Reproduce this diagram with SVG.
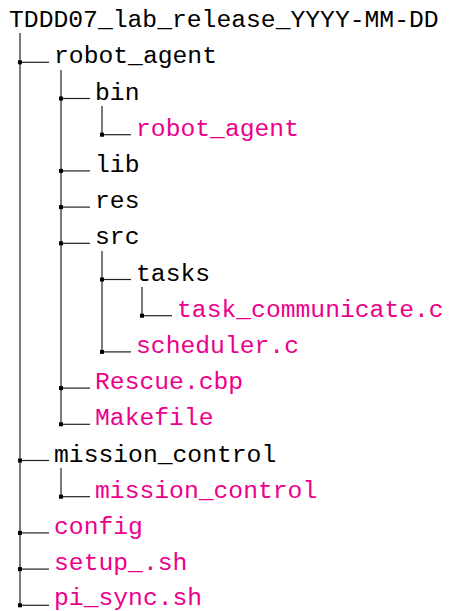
<svg xmlns="http://www.w3.org/2000/svg" width="449" height="611" viewBox="0 0 449 611">
<style>
text{font-family:"Liberation Mono","DejaVu Sans Mono",monospace;font-size:24.7px;fill:#000}
.f{fill:#EC008C}
.c line{stroke:#222;stroke-width:1.2}
.c rect{fill:#000}
</style>
<rect width="449" height="611" fill="#fff"/>
<g id="connectors" class="c">
<line x1="20" y1="33" x2="20" y2="605.3"/>
<line x1="61" y1="70" x2="61" y2="424.3"/>
<line x1="102" y1="106" x2="102" y2="134.7"/>
<line x1="102" y1="251" x2="102" y2="351.9"/>
<line x1="142" y1="287" x2="142" y2="315.7"/>
<line x1="61" y1="468" x2="61" y2="496.7"/>
<line x1="20" y1="62.3" x2="49" y2="62.3"/>
<line x1="61" y1="98.5" x2="90" y2="98.5"/>
<line x1="102" y1="134.7" x2="131" y2="134.7"/>
<line x1="61" y1="170.9" x2="90" y2="170.9"/>
<line x1="61" y1="207.1" x2="90" y2="207.1"/>
<line x1="61" y1="243.3" x2="90" y2="243.3"/>
<line x1="102" y1="279.5" x2="131" y2="279.5"/>
<line x1="142" y1="315.7" x2="172" y2="315.7"/>
<line x1="102" y1="351.9" x2="131" y2="351.9"/>
<line x1="61" y1="388.1" x2="90" y2="388.1"/>
<line x1="61" y1="424.3" x2="90" y2="424.3"/>
<line x1="20" y1="460.5" x2="49" y2="460.5"/>
<line x1="61" y1="496.7" x2="90" y2="496.7"/>
<line x1="20" y1="532.9" x2="49" y2="532.9"/>
<line x1="20" y1="569.1" x2="49" y2="569.1"/>
<line x1="20" y1="605.3" x2="49" y2="605.3"/>
<rect x="18" y="60.3" width="4" height="4"/>
<rect x="59" y="96.5" width="4" height="4"/>
<rect x="100" y="132.7" width="4" height="4"/>
<rect x="59" y="168.9" width="4" height="4"/>
<rect x="59" y="205.1" width="4" height="4"/>
<rect x="59" y="241.3" width="4" height="4"/>
<rect x="100" y="277.5" width="4" height="4"/>
<rect x="140" y="313.7" width="4" height="4"/>
<rect x="100" y="349.9" width="4" height="4"/>
<rect x="59" y="386.1" width="4" height="4"/>
<rect x="59" y="422.3" width="4" height="4"/>
<rect x="18" y="458.5" width="4" height="4"/>
<rect x="59" y="494.7" width="4" height="4"/>
<rect x="18" y="530.9" width="4" height="4"/>
<rect x="18" y="567.1" width="4" height="4"/>
<rect x="18" y="603.3" width="4" height="4"/>
</g>
<g id="root"><text x="9" y="27">TDDD07_lab_release_YYYY-MM-DD</text></g>
<g id="robot_agent"><text x="54" y="63.3">robot_agent</text></g>
<g id="bin"><text x="95" y="99.5">bin</text></g>
<g id="robot_agent_bin"><text class="f" x="136" y="135.7">robot_agent</text></g>
<g id="lib"><text x="95" y="171.9">lib</text></g>
<g id="res"><text x="95" y="208.1">res</text></g>
<g id="src"><text x="95" y="244.3">src</text></g>
<g id="tasks"><text x="136" y="280.5">tasks</text></g>
<g id="task_communicate"><text class="f" x="177" y="316.7">task_communicate.c</text></g>
<g id="scheduler"><text class="f" x="136" y="352.9">scheduler.c</text></g>
<g id="rescue"><text class="f" x="95" y="389.1">Rescue.cbp</text></g>
<g id="makefile"><text class="f" x="95" y="425.3">Makefile</text></g>
<g id="mission_control"><text x="54" y="461.5">mission_control</text></g>
<g id="mission_control_bin"><text class="f" x="95" y="497.7">mission_control</text></g>
<g id="config"><text class="f" x="54" y="533.9">config</text></g>
<g id="setup"><text class="f" x="54" y="570.1">setup_.sh</text></g>
<g id="pi_sync"><text class="f" x="54" y="605">pi_sync.sh</text></g>
</svg>
